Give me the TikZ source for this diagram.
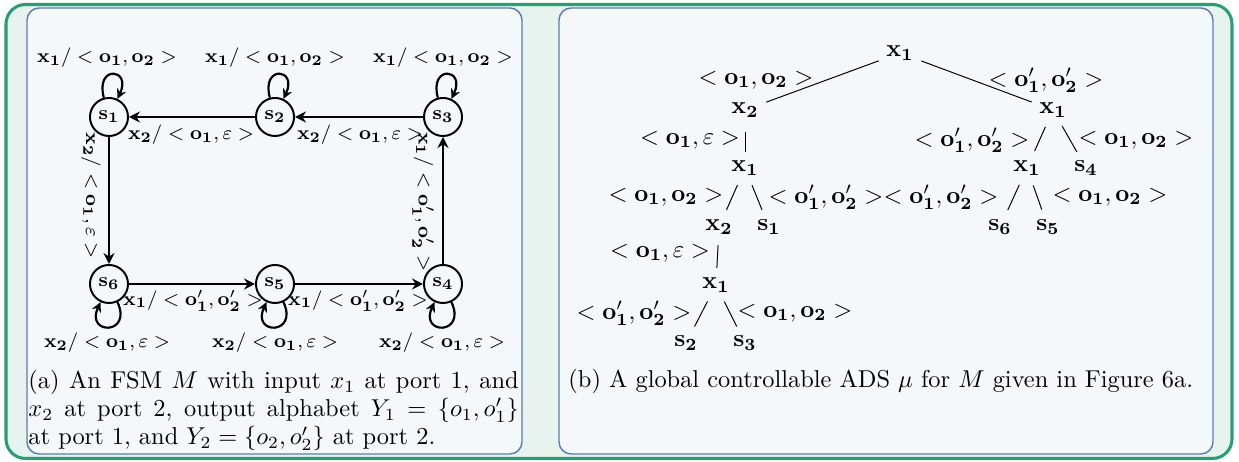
\documentclass[tikz,border=0pt]{standalone}
\usetikzlibrary{arrows.meta}
\definecolor{framegreen}{HTML}{2A9D74}
\definecolor{outerfill}{HTML}{E7F3EF}
\definecolor{panelfill}{HTML}{F5F8FB}
\definecolor{panelborder}{HTML}{5B7DB1}
\newcommand\fsmsize{\fontsize{8.3}{10}\selectfont}
\newcommand\loo{\ensuremath{<\mathbf{o_1},\mathbf{o_2}>}}
\newcommand\lpp{\ensuremath{<\mathbf{o'_1},\mathbf{o'_2}>}}
\newcommand\leps{\ensuremath{<\mathbf{o_1},\varepsilon>}}
\begin{document}
\begin{tikzpicture}[x=0.41pt,y=-0.41pt,
  state/.style={circle,draw,line width=0.8pt,minimum size=15.6pt,inner sep=0pt,font=\fsmsize},
  lbl/.style={font=\fsmsize,inner sep=0pt},
  trans/.style={line width=1.1pt,-{Stealth[length=4.5pt,width=4.5pt]}},
  selfloop/.style={line width=0.9pt,-{Stealth[length=4pt,width=4pt]}},
  tnode/.style={inner sep=3pt},
  tedge/.style={line width=0.4pt},
  glyph/.style={line width=0.4pt,shorten <=7.6pt,shorten >=7.6pt},
  tlbl/.style={inner sep=0pt},
  panel/.style={draw=panelborder,line width=0.6pt,fill=panelfill,rounded corners=5pt}]
\useasboundingbox (0,0) rectangle (1239,462);
% frames
\draw[framegreen,line width=1.25pt,fill=outerfill,rounded corners=8pt] (6,4.5) rectangle (1232,458.5);
\draw[panel] (27,8) rectangle (522,454);
\draw[panel] (559,8) rectangle (1213,454);

% ---------- FSM ----------
\node[state] (s1) at (109,117) {$\mathbf{s_1}$};
\node[state] (s2) at (275,117) {$\mathbf{s_2}$};
\node[state] (s3) at (443,117) {$\mathbf{s_3}$};
\node[state] (s6) at (109,284) {$\mathbf{s_6}$};
\node[state] (s5) at (275,284) {$\mathbf{s_5}$};
\node[state] (s4) at (443,284) {$\mathbf{s_4}$};

\draw[trans] (s2) -- (s1);
\draw[trans] (s3) -- (s2);
\draw[trans] (s1) -- (s6);
\draw[trans] (s6) -- (s5);
\draw[trans] (s5) -- (s4);
\draw[trans] (s4) -- (s3);

\foreach \s in {s1,s2,s3}{
  \draw[selfloop] (\s.105) .. controls +(105:14pt) and +(65:14pt) .. (\s.65);
}
\foreach \s in {s6,s5,s4}{
  \draw[selfloop] (\s.-65) .. controls +(-65:15pt) and +(-115:15pt) .. (\s.-115);
}

\node[lbl] (l1) at (107,58) {$\mathbf{x_1}/\loo$};
\node[lbl] (l2) at (275,58) {$\mathbf{x_1}/\loo$};
\node[lbl] (l3) at (443,58) {$\mathbf{x_1}/\loo$};
\node[lbl] (l6) at (107,343) {$\mathbf{x_2}/\leps$};
\node[lbl] (l5) at (275,343) {$\mathbf{x_2}/\leps$};
\node[lbl] (l4) at (442,343) {$\mathbf{x_2}/\leps$};
\node[lbl] (e21) at (191,135) {$\mathbf{x_2}/\leps$};
\node[lbl] (e32) at (360,135) {$\mathbf{x_2}/\leps$};
\node[lbl,rotate=-90] (e16) at (91,196) {$\mathbf{x_2}/\leps$};
\node[lbl,rotate=-90] (e43) at (423,202) {$\mathbf{x_1}/\lpp$};
\node[lbl] (e65) at (193,301) {$\mathbf{x_1}/\lpp$};
\node[lbl] (e54) at (358,301) {$\mathbf{x_1}/\lpp$};

% ---------- ADS tree ----------
\node[tnode] (r) at (900,53) {$\mathbf{x_1}$};
\node[tnode] (a) at (745,110) {$\mathbf{x_2}$};
\node[tnode] (b) at (1053,110) {$\mathbf{x_1}$};
\node[tnode] (c) at (745,168) {$\mathbf{x_1}$};
\node[tnode] (d) at (1027,168) {$\mathbf{x_1}$};
\node[tnode] (e) at (1086,168) {$\mathbf{s_4}$};
\node[tnode] (f) at (719,227) {$\mathbf{x_2}$};
\node[tnode] (g) at (769,227) {$\mathbf{s_1}$};
\node[tnode] (h) at (1000,227) {$\mathbf{s_6}$};
\node[tnode] (i) at (1048,227) {$\mathbf{s_5}$};
\node[tnode] (j) at (716,285) {$\mathbf{x_1}$};
\node[tnode] (k) at (686,343) {$\mathbf{s_2}$};
\node[tnode] (l) at (745,343) {$\mathbf{s_3}$};

\draw[tedge] (r) -- (a);
\draw[tedge] (r) -- (b);
\draw[glyph,shorten <=9pt,shorten >=6.6pt] (a.center) -- (c.center);
\draw[glyph] (b.center) -- (d.center);
\draw[glyph] (b.center) -- (e.center);
\draw[glyph] (c.center) -- (f.center);
\draw[glyph] (c.center) -- (g.center);
\draw[glyph] (d.center) -- (h.center);
\draw[glyph] (d.center) -- (i.center);
\draw[glyph,shorten <=7.4pt,shorten >=7pt] (f.center) -- (j.center);
\draw[glyph] (j.center) -- (k.center);
\draw[glyph] (j.center) -- (l.center);

\node[tlbl] (t1) at (756,80) {\loo};
\node[tlbl] (t2) at (1046,80) {\lpp};
\node[tlbl] (t3) at (690,140) {\leps};
\node[tlbl] (t4) at (972,140) {\lpp};
\node[tlbl] (t5) at (1136,140) {\loo};
\node[tlbl] (t6) at (666,197) {\loo};
\node[tlbl] (t7) at (826,197) {\lpp};
\node[tlbl] (t8) at (941,197) {\lpp};
\node[tlbl] (t9) at (1110,197) {\loo};
\node[tlbl] (t10) at (660,253) {\leps};
\node[tlbl] (t11) at (634,313) {\lpp};
\node[tlbl] (t12) at (795,313) {\loo};

% ---------- captions ----------
\node[anchor=north west,inner sep=0pt,text width=201pt,align=justify,font=\fontsize{10}{11.5}\selectfont] (capa) at (28,370)
  {(a) An FSM $M$ with input $x_1$ at port 1, and\linebreak $x_2$ at port 2, output alphabet $Y_1=\{o_1,o'_1\}$\linebreak at port 1, and $Y_2=\{o_2,o'_2\}$ at port 2.};
\node[anchor=base west,inner sep=0pt] (capb) at (568,388)
  {(b) A global controllable ADS $\mu$ for $M$ given in Figure 6a.};
\end{tikzpicture}
\end{document}
